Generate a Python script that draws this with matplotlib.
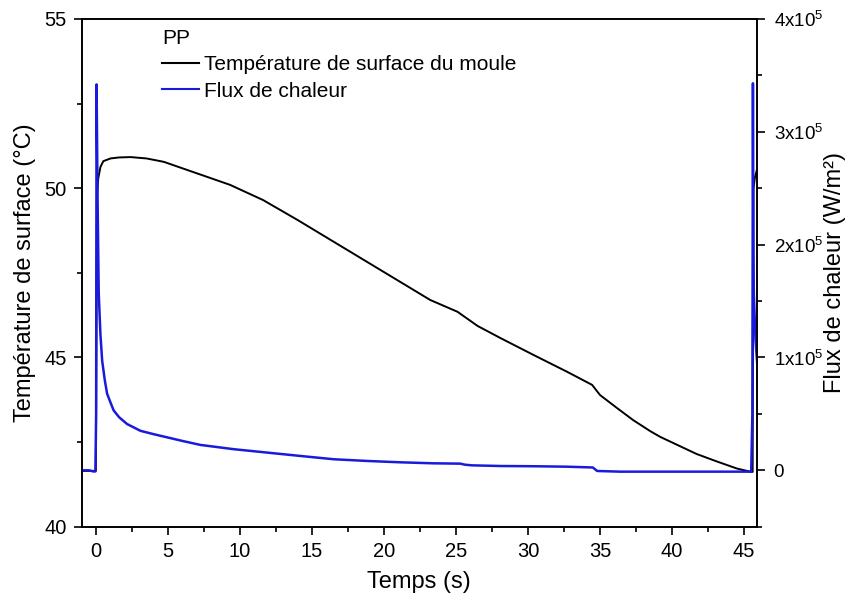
import matplotlib
matplotlib.use("Agg")
import matplotlib.pyplot as plt
from matplotlib.ticker import MultipleLocator, FixedLocator, FixedFormatter

plt.rcParams['font.family'] = ['Liberation Sans', 'DejaVu Sans']
plt.rcParams['mathtext.fontset'] = 'custom'
plt.rcParams['mathtext.rm'] = 'Liberation Sans'
plt.rcParams['mathtext.it'] = 'Liberation Sans'

# Mould surface temperature (°C) vs time (s)
temp_t = [-1.0, -0.02, 0.03, 0.07, 0.15, 0.3, 0.5, 1.0, 1.6, 2.4, 3.5, 4.7,
          7.0, 9.3, 11.6, 14.0, 16.3, 18.6, 20.9, 23.2, 25.1, 26.5, 28.1,
          30.4, 32.7, 34.45, 35.0, 36.2, 37.3, 38.5, 39.2, 40.8, 41.7, 43.1,
          44.5, 45.5, 45.6, 45.63, 45.66, 45.75, 45.9, 46.0]
temp_c = [41.65, 41.65, 46.5, 49.86, 50.3, 50.63, 50.8, 50.88, 50.91, 50.92,
          50.88, 50.78, 50.44, 50.10, 49.65, 49.06, 48.47, 47.88, 47.29, 46.70,
          46.35, 45.93, 45.57, 45.07, 44.58, 44.19, 43.89, 43.50, 43.15, 42.82,
          42.65, 42.33, 42.15, 41.93, 41.72, 41.62, 41.62, 48.0, 50.0, 50.3,
          50.55, 50.65]

# Heat flux (W/m²) vs time (s)
flux_t = [-1.0, -0.5, -0.2, -0.05, 0.0, 0.03, 0.1, 0.18, 0.3, 0.42, 0.6, 0.76,
          1.0, 1.22, 1.6, 2.15, 3.08, 4.0, 5.0, 6.0, 7.24, 9.56, 11.88, 14.2,
          16.5, 18.8, 21.1, 23.4, 25.3, 25.6, 26.1, 28.1, 30.4, 32.7, 34.5,
          34.8, 36.4, 40.0, 43.0, 45.5, 45.58, 45.62, 45.64, 45.68, 45.8,
          45.94, 46.0]
flux_w = [0.0, 0.0, -1000, -1000, 50000, 342000, 240000, 157000, 120000,
          97000, 80000, 68000, 60000, 53000, 47000, 41000, 35000, 32000, 29000,
          26000, 22500, 18700, 15700, 12700, 9800, 8300, 7100, 6200, 5900, 5000,
          4400, 3800, 3600, 3200, 2500, -600, -1200, -1200, -1200, -1200, 50000,
          343000, 240000, 157000, 115000, 91000, 85000]

x_ticks = [0, 5, 10, 15, 20, 25, 30, 35, 40, 45]
t_ticks = [40, 45, 50, 55]
f_ticks = [0, 100000, 200000, 300000, 400000]
f_labels = ['0', r'1x10$^{5}$', r'2x10$^{5}$', r'3x10$^{5}$', r'4x10$^{5}$']

fig = plt.figure(figsize=(8.47, 6.01), dpi=100)
ax = fig.add_axes([0.0965, 0.1236, 0.7972, 0.8448])
ax2 = ax.twinx()

l1, = ax.plot(temp_t, temp_c, color='black', lw=1.4,
              label='Température de surface du moule')
l2, = ax2.plot(flux_t, flux_w, color='#1a1adc', lw=1.8, label='Flux de chaleur')

ax.set_xlim(-1, 45.9)
ax.set_ylim(40, 55)
ax2.set_ylim(-50000, 400000)

ax.xaxis.set_major_locator(FixedLocator(x_ticks))
ax.xaxis.set_minor_locator(MultipleLocator(2.5))
ax.yaxis.set_major_locator(FixedLocator(t_ticks))
ax.yaxis.set_minor_locator(MultipleLocator(2.5))
ax2.yaxis.set_major_locator(FixedLocator(f_ticks))
ax2.yaxis.set_major_formatter(FixedFormatter(f_labels))
ax2.yaxis.set_minor_locator(MultipleLocator(50000))

for a in (ax, ax2):
    a.tick_params(which='major', direction='out', length=6, width=1.2,
                  labelsize=14.5, pad=5)
    a.tick_params(which='minor', direction='out', length=3.5, width=1.2)
    for s in a.spines.values():
        s.set_linewidth(1.2)
ax.tick_params(axis='y', which='both', right=False)
ax.tick_params(axis='x', which='both', top=False)
ax2.tick_params(axis='y', which='major', pad=6, labelsize=13.5)

ax.set_xlabel('Temps (s)', fontsize=17, labelpad=7)
ax.set_ylabel('Température de surface (°C)', fontsize=17)
ax.yaxis.set_label_coords(-0.0677, 0.5)
ax2.set_ylabel('Flux de chaleur (W/m²)', fontsize=17)
ax2.yaxis.set_label_coords(1.099, 0.5)

leg = ax.legend(handles=[l1, l2], title='PP', loc='upper left',
                bbox_to_anchor=(0.1, 1.005), frameon=False, fontsize=15,
                title_fontsize=15, handlelength=1.8, handletextpad=0.25,
                labelspacing=0.35, borderaxespad=0.2)
leg._legend_box.align = 'left'
for h in leg.legend_handles:
    h.set_linewidth(1.5)

fig.savefig('out.png', dpi=100)
